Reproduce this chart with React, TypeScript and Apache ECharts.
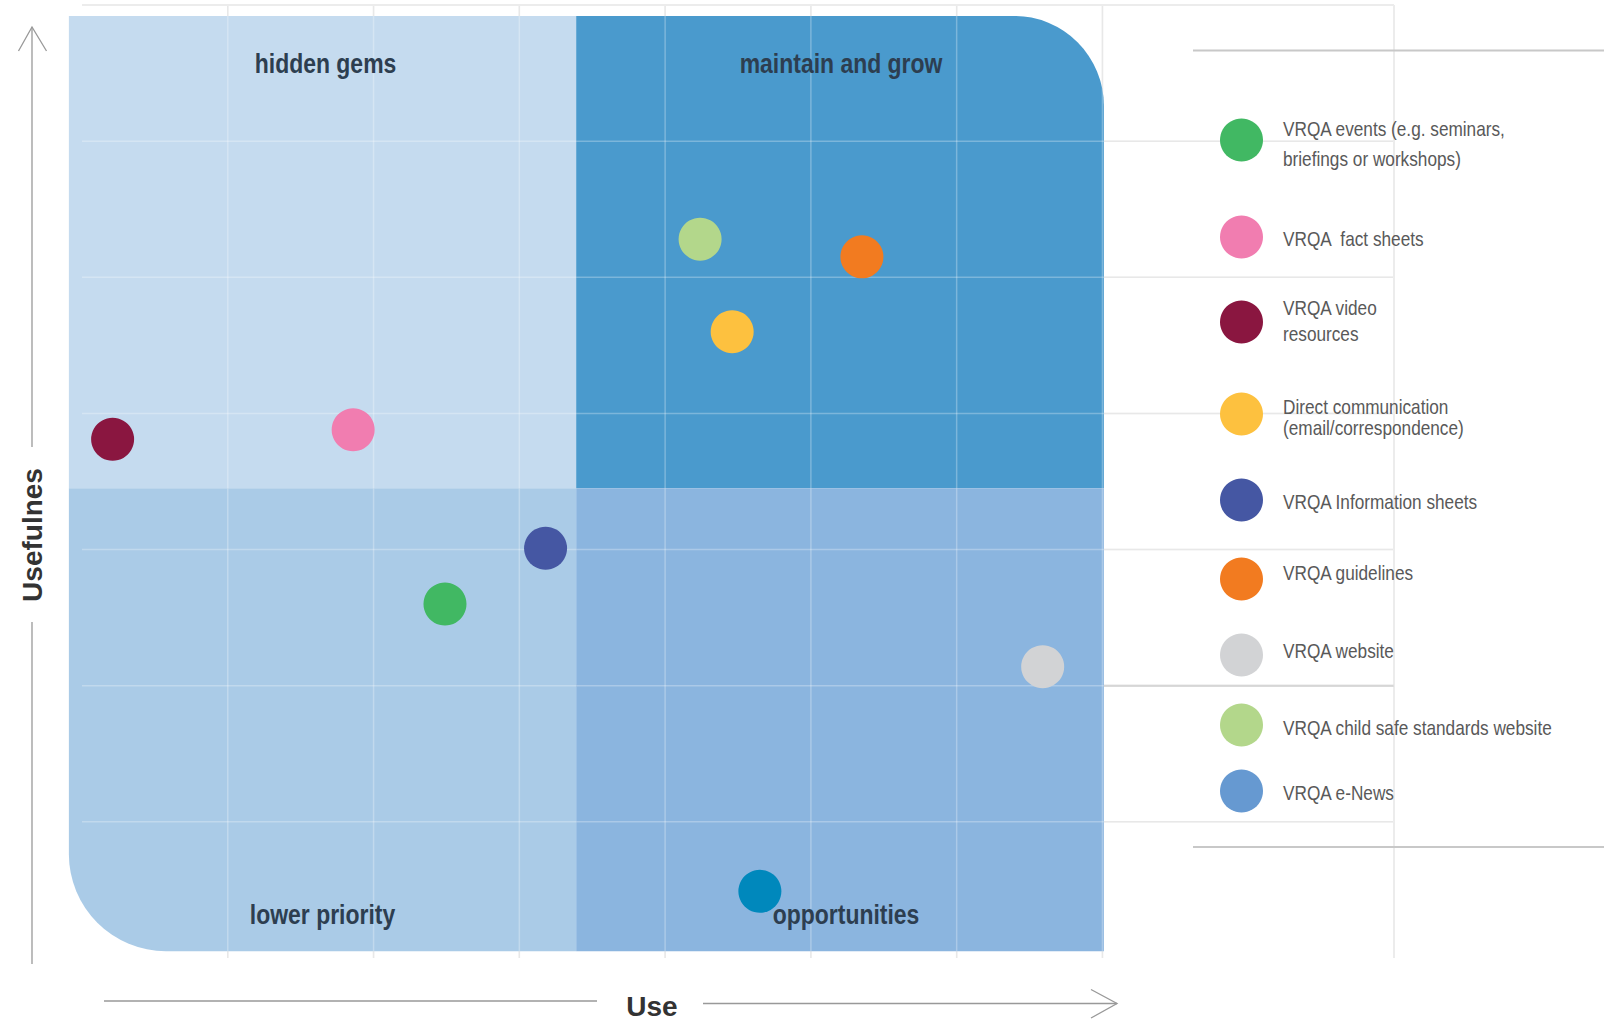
import React, { useEffect, useRef } from 'react';
import * as echarts from 'echarts';

// ---------- data ----------
const SERIES_NAMES = [
  'VRQA events (e.g. seminars, briefings or workshops)',
  'VRQA fact sheets',
  'VRQA video resources',
  'Direct communication (email/correspondence)',
  'VRQA Information sheets',
  'VRQA guidelines',
  'VRQA website',
  'VRQA child safe standards website',
  'VRQA e-News',
];
const LEGEND_LINES = [
  ['VRQA events (e.g. seminars,', 'briefings or workshops)'],
  ['VRQA  fact sheets'],
  ['VRQA video', 'resources'],
  ['Direct communication', '(email/correspondence)'],
  ['VRQA Information sheets'],
  ['VRQA guidelines'],
  ['VRQA website'],
  ['VRQA child safe standards website'],
  ['VRQA e-News'],
];
// Use (x) and Usefulness (y)
const USE = [2.49, 1.86, 0.21, 4.46, 3.18, 5.35, 6.59, 4.24, 4.65];
const USEFULNESS = [2.6, 3.88, 3.81, 4.6, 3.01, 5.15, 2.14, 5.28, 0.49];
const POINT_COLORS = ['#41b863', '#f17db0', '#8a1640', '#fdc13f', '#4557a3', '#f27b20', '#d2d3d5', '#b3d78b', '#0088bc'];
const LEGEND_COLORS = ['#41b863', '#f17db0', '#8a1640', '#fdc13f', '#4557a3', '#f27b20', '#d2d3d5', '#b3d78b', '#6699d1'];

const QUADRANT_LABELS = ['hidden gems', 'maintain and grow', 'lower priority', 'opportunities'];
const QUAD_X = [-0.09, 3.39, 7.01];
const QUAD_Y = [0.05, 3.45, 6.92];
// [x index from, x index to, y index from, y index to]
const QUAD_CELLS = [
  [0, 1, 1, 2],
  [1, 2, 1, 2],
  [0, 1, 0, 1],
  [1, 2, 0, 1],
];

const X_MIN = 0;
const X_MAX = 9;
const Y_MIN = 0;
const Y_MAX = 7;
const X_GRID_LINES = [1, 2, 3, 4, 5, 6, 7, 9];
const Y_GRID_LINES = [1, 2, 3, 4, 5, 6, 7];

// ---------- styles / layout ----------
const QUAD_COLORS = ['#c5dbef', '#4a9acd', '#aacbe7', '#8bb5df'];
const QUAD_RADII = [
  [0, 0, 0, 0],
  [0, 90, 0, 0],
  [0, 0, 0, 97],
  [0, 0, 0, 0],
];
const LABEL_DX = [3, 1, 0, 6];
const LEGEND_DOT_X = 1241.5;
const LEGEND_TEXT_X = 1283;
const LEGEND_DOT_Y = [140, 237, 322, 414, 500, 579, 655, 725, 791];
const LEGEND_LINE_Y = [[129, 159], [239], [308, 334], [407, 428], [502], [573], [651], [728], [793]];
const NARROW = 0.82;
const LABEL_FONT = 'bold 28px "Liberation Sans", Arial, sans-serif';
const LEGEND_FONT = '21px "Liberation Sans", Arial, sans-serif';
const AXIS_FONT = 'bold 28px "Liberation Sans", Arial, sans-serif';
const AXIS_COLOR = '#999999';

function gridLineData() {
  return [
    ...X_GRID_LINES.map((v) => [v, 0, 0]),
    ...Y_GRID_LINES.map((v) => [0, v, 1]),
  ];
}

function makeGridRender(under: boolean) {
  return (params: any, api: any) => {
    const orient = api.value(2);
    let a: number[];
    let b: number[];
    let strong = false;
    if (orient === 0) {
      const v = api.value(0);
      a = api.coord([v, Y_MIN]);
      b = api.coord([v, Y_MAX]);
    } else {
      const v = api.value(1);
      a = api.coord([X_MIN, v]);
      b = api.coord([X_MAX, v]);
      strong = v === 2;
    }
    const stroke = under ? (strong ? '#c6c6c6' : '#e0e0e0') : 'rgba(255,255,255,0.28)';
    return {
      type: 'line',
      shape: { x1: a[0], y1: a[1], x2: b[0], y2: b[1] },
      style: { stroke, lineWidth: strong && under ? 2 : 1.5 },
    };
  };
}

function buildOption() {
  const quadData = QUAD_CELLS.map((c, i) => [QUAD_X[c[0]], QUAD_Y[c[2]], QUAD_X[c[1]], QUAD_Y[c[3]], i]);

  const scatterSeries = SERIES_NAMES.map((name, i) => ({
    type: 'scatter',
    name,
    data: [[USE[i], USEFULNESS[i]]],
    symbol: 'circle',
    symbolSize: 43,
    itemStyle: { color: POINT_COLORS[i], opacity: 1 },
    z: 4,
    silent: true,
  }));

  const legendElements: any[] = [];
  LEGEND_LINES.forEach((lines, i) => {
    legendElements.push({
      type: 'circle',
      z: 100,
      shape: { cx: LEGEND_DOT_X, cy: LEGEND_DOT_Y[i], r: 21.5 },
      style: { fill: LEGEND_COLORS[i] },
    });
    lines.forEach((t, j) => {
      legendElements.push({
        type: 'text',
        z: 100,
        x: LEGEND_TEXT_X,
        y: LEGEND_LINE_Y[i][j],
        scaleX: NARROW,
        style: {
          text: t,
          font: LEGEND_FONT,
          fill: '#595959',
          align: 'left',
          verticalAlign: 'middle',
        },
      });
    });
  });

  const decor: any[] = [
    // legend frame lines
    { type: 'line', z: 50, shape: { x1: 1193, y1: 50.5, x2: 1604, y2: 50.5 }, style: { stroke: '#c8c8c8', lineWidth: 2 } },
    { type: 'line', z: 50, shape: { x1: 1193, y1: 847, x2: 1604, y2: 847 }, style: { stroke: '#c8c8c8', lineWidth: 2 } },
    // vertical axis (Usefulness)
    { type: 'line', z: 50, shape: { x1: 32, y1: 27, x2: 32, y2: 447 }, style: { stroke: AXIS_COLOR, lineWidth: 1.3 } },
    { type: 'polyline', z: 50, shape: { points: [[18.5, 51], [32, 27], [46.5, 51]] }, style: { stroke: AXIS_COLOR, lineWidth: 1.3, fill: 'none' } },
    { type: 'line', z: 50, shape: { x1: 32, y1: 622, x2: 32, y2: 964 }, style: { stroke: AXIS_COLOR, lineWidth: 1.3 } },
    {
      type: 'text', z: 50, x: 32.5, y: 535, rotation: Math.PI / 2,
      style: { text: 'Usefulnes', font: AXIS_FONT, fill: '#333333', align: 'center', verticalAlign: 'middle' },
    },
    // horizontal axis (Use)
    { type: 'line', z: 50, shape: { x1: 104, y1: 1001, x2: 597, y2: 1001 }, style: { stroke: AXIS_COLOR, lineWidth: 1.3 } },
    { type: 'line', z: 50, shape: { x1: 703, y1: 1003.5, x2: 1117, y2: 1003.5 }, style: { stroke: AXIS_COLOR, lineWidth: 1.3 } },
    { type: 'polyline', z: 50, shape: { points: [[1091, 989.5], [1117, 1003.5], [1091, 1018]] }, style: { stroke: AXIS_COLOR, lineWidth: 1.3, fill: 'none' } },
    {
      type: 'text', z: 50, x: 652, y: 1006,
      style: { text: 'Use', font: AXIS_FONT, fill: '#333333', align: 'center', verticalAlign: 'middle' },
    },
  ];

  return {
    animation: false,
    backgroundColor: '#ffffff',
    grid: { left: 82, right: 210, top: 5, bottom: 62 },
    xAxis: { type: 'value', min: X_MIN, max: X_MAX, interval: 1, show: false },
    yAxis: { type: 'value', min: Y_MIN, max: Y_MAX, interval: 1, show: false },
    series: [
      {
        type: 'custom',
        name: 'grid-under',
        coordinateSystem: 'cartesian2d',
        clip: false,
        silent: true,
        z: 1,
        data: gridLineData(),
        renderItem: makeGridRender(true),
      },
      {
        type: 'custom',
        name: 'quadrants',
        coordinateSystem: 'cartesian2d',
        clip: false,
        silent: true,
        z: 2,
        data: quadData,
        renderItem: (params: any, api: any) => {
          const i = params.dataIndex;
          const tl = api.coord([api.value(0), api.value(3)]);
          const br = api.coord([api.value(2), api.value(1)]);
          return {
            type: 'rect',
            shape: { x: tl[0], y: tl[1], width: br[0] - tl[0], height: br[1] - tl[1], r: QUAD_RADII[i] },
            style: { fill: QUAD_COLORS[i] },
          };
        },
      },
      {
        type: 'custom',
        name: 'grid-over',
        coordinateSystem: 'cartesian2d',
        clip: false,
        silent: true,
        z: 3,
        data: gridLineData(),
        renderItem: makeGridRender(false),
      },
      ...scatterSeries,
      {
        type: 'custom',
        name: 'quadrant-labels',
        coordinateSystem: 'cartesian2d',
        clip: false,
        silent: true,
        z: 6,
        data: quadData,
        renderItem: (params: any, api: any) => {
          const i = params.dataIndex;
          const tl = api.coord([api.value(0), api.value(3)]);
          const br = api.coord([api.value(2), api.value(1)]);
          const isTop = QUAD_CELLS[i][2] === 1;
          return {
            type: 'text',
            x: (tl[0] + br[0]) / 2 + LABEL_DX[i],
            y: isTop ? tl[1] + 47 : br[1] - 37.5,
            scaleX: NARROW,
            style: {
              text: QUADRANT_LABELS[i],
              font: LABEL_FONT,
              fill: '#2d3e50',
              align: 'center',
              verticalAlign: 'middle',
            },
          };
        },
      },
    ],
    graphic: [...decor, ...legendElements],
  };
}

export default function App() {
  const ref = useRef<HTMLDivElement>(null);
  useEffect(() => {
    if (!ref.current) return;
    const chart = echarts.init(ref.current, null, { renderer: 'svg' });
    chart.setOption(buildOption() as any);
    return () => {
      chart.dispose();
    };
  }, []);
  return <div ref={ref} style={{ position: 'absolute', left: 0, top: 0, width: 1604, height: 1020 }} />;
}
